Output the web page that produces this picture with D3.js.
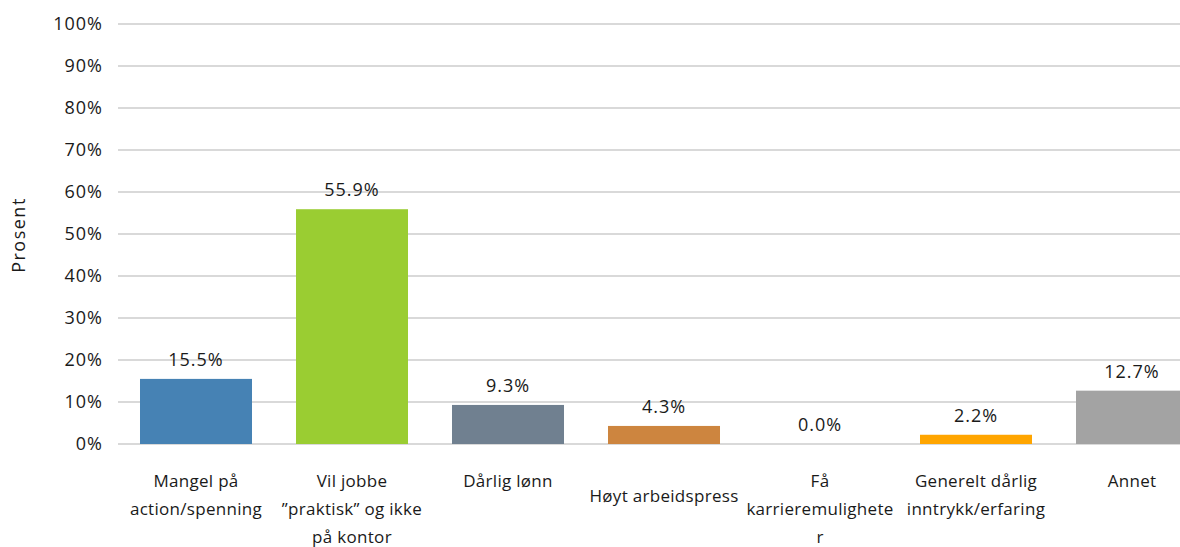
<!DOCTYPE html>
<meta charset="utf-8">
<style>
body { margin: 0; background: #fff; }
text {
  font-family: "Open Sans", sans-serif;
  font-size: 17px;
  letter-spacing: 0.3px;
  fill: #1a1a1a;
}
text.num {
  font-size: 18px;
  letter-spacing: 1px;
}
text.title {
  font-size: 18px;
  letter-spacing: 1.5px;
}
.grid line {
  stroke: #d9d9d9;
  stroke-width: 2px;
}
</style>
<svg width="1180" height="547"></svg>
<script src="https://d3js.org/d3.v7.min.js"></script>
<script>

// data
var categories = ["Mangel på action/spenning", "Vil jobbe praktisk", "Dårlig lønn",
                  "Høyt arbeidspress", "Få karrieremuligheter", "Generelt dårlig inntrykk", "Annet"];
var labelLines = [["Mangel på", "action/spenning"],
                  ["Vil jobbe", "”praktisk” og ikke", "på kontor"],
                  ["Dårlig lønn"],
                  ["Høyt arbeidspress"],
                  ["Få", "karrieremulighete", "r"],
                  ["Generelt dårlig", "inntrykk/erfaring"],
                  ["Annet"]];
var values = [15.5, 55.9, 9.3, 4.3, 0.0, 2.2, 12.7];
var colors = ["#4682b4", "#9acd32", "#708090", "#cd853f", "#cccccc", "#ffa500", "#a3a3a3"];
var yTicks = [0, 10, 20, 30, 40, 50, 60, 70, 80, 90, 100];

var svg = d3.select("svg"),
    margin = {top: 24, left: 118, bottom: 103},
    height = +svg.attr("height");

var x = d3.scaleBand()
    .domain(categories)
    .range([margin.left, 1210])   // last band runs past the edge like in the original
    .paddingInner(0.282)
    .paddingOuter(0.141);

var y = d3.scaleLinear()
    .domain([0, 100])
    .range([height - margin.bottom, margin.top]);

// gridlines
svg.append("g")
    .attr("class", "grid")
  .selectAll("line")
  .data(yTicks)
  .enter().append("line")
    .attr("x1", margin.left)
    .attr("x2", 1180)
    .attr("y1", function(d) { return y(d); })
    .attr("y2", function(d) { return y(d); });

// y axis labels
svg.append("g")
  .selectAll("text")
  .data(yTicks)
  .enter().append("text")
    .attr("class", "num")
    .attr("x", 103)
    .attr("y", function(d) { return y(d); })
    .attr("dy", "0.36em")
    .attr("text-anchor", "end")
    .text(function(d) { return d + "%"; });

svg.append("text")
    .attr("class", "title")
    .attr("transform", "translate(25," + 235 + ") rotate(-90)")
    .attr("text-anchor", "middle")
    .text("Prosent");

// bars
svg.append("g")
  .selectAll("rect")
  .data(values)
  .enter().append("rect")
    .attr("x", function(d, i) { return x(categories[i]); })
    .attr("width", x.bandwidth())
    .attr("y", function(d) { return y(d); })
    .attr("height", function(d) { return y(0) - y(d); })
    .attr("fill", function(d, i) { return colors[i]; });

// value labels
svg.append("g")
  .selectAll("text")
  .data(values)
  .enter().append("text")
    .attr("class", "num")
    .attr("x", function(d, i) { return x(categories[i]) + x.bandwidth() / 2; })
    .attr("y", function(d) { return y(d) - 13; })
    .attr("text-anchor", "middle")
    .text(function(d) { return d.toFixed(1) + "%"; });

// category labels (Høyt arbeidspress sits half a line lower in the original)
var cat = svg.append("g")
  .selectAll("text")
  .data(labelLines)
  .enter().append("text")
    .attr("text-anchor", "middle")
    .attr("transform", function(d, i) {
      var shift = categories[i] == "Høyt arbeidspress" ? 15 : 0;
      return "translate(" + (x(categories[i]) + x.bandwidth() / 2) + "," + (487 + shift) + ")";
    });

cat.selectAll("tspan")
  .data(function(d) { return d; })
  .enter().append("tspan")
    .attr("x", 0)
    .attr("y", function(d, i) { return i * 28; })
    .text(function(d) { return d; });

</script>
